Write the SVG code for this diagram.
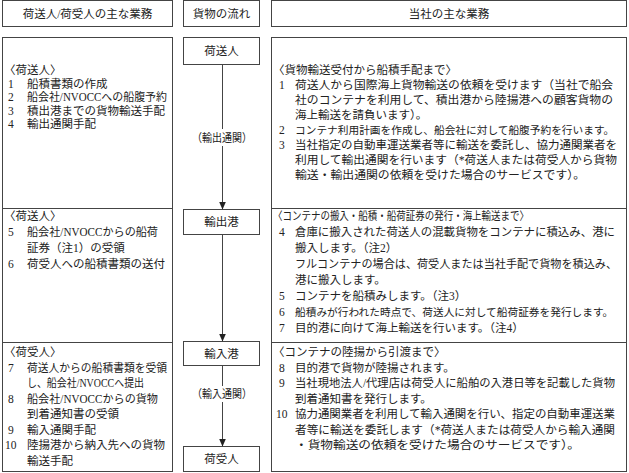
<svg xmlns="http://www.w3.org/2000/svg" width="629" height="473" viewBox="0 0 629 473">
<defs>
<style>
.bx{fill:#fff;stroke:#444;stroke-width:1}
.ln{fill:none;stroke:#444;stroke-width:1}
.t{font-family:"Liberation Serif","Noto Sans CJK JP",sans-serif;font-size:11.5px;fill:#222;dominant-baseline:central}
.s{font-size:10.7px}
.c{text-anchor:middle}
</style>
<marker id="ah" markerUnits="userSpaceOnUse" markerWidth="8" markerHeight="8" refX="8" refY="3.5" orient="auto">
<path d="M0,0 L8,3.5 L0,7 z" fill="#222"/>
</marker>
</defs>
<rect width="629" height="473" fill="#fff"/>

<g id="headers">
<rect class="bx" x="2.5" y="0.5" width="170" height="26"/>
<text class="t c" x="87.5" y="14">荷送人/荷受人の主な業務</text>
<rect class="bx" x="183.5" y="0.5" width="76" height="26"/>
<text class="t c" x="221.5" y="14">貨物の流れ</text>
<rect class="bx" x="271.5" y="0.5" width="355" height="26"/>
<text class="t c" x="449" y="14">当社の主な業務</text>
</g>

<g id="left-column">
<rect class="bx" x="2.5" y="37.5" width="170" height="434"/>
<line class="ln" x1="2.5" y1="208.5" x2="172.5" y2="208.5"/>
<line class="ln" x1="2.5" y1="342.5" x2="172.5" y2="342.5"/>
<text class="t" x="4" y="70">〈荷送人〉</text>
<text class="t" x="8" y="83.5">1</text><text class="t" x="27" y="83.5">船積書類の作成</text>
<text class="t" x="8" y="97">2</text><text class="t" x="27" y="97" textLength="140" lengthAdjust="spacingAndGlyphs">船会社/NVOCCへの船腹予約</text>
<text class="t" x="8" y="110.5">3</text><text class="t" x="27" y="110.5">積出港までの貨物輸送手配</text>
<text class="t" x="8" y="124">4</text><text class="t" x="27" y="124">輸出通関手配</text>

<text class="t" x="4" y="216">〈荷送人〉</text>
<text class="t" x="8" y="232">5</text><text class="t" x="27" y="232" textLength="131" lengthAdjust="spacingAndGlyphs">船会社/NVOCCからの船荷</text>
<text class="t" x="27" y="248">証券（注1）の受領</text>
<text class="t" x="8" y="264">6</text><text class="t" x="27" y="264">荷受人への船積書類の送付</text>

<text class="t" x="4" y="352">〈荷受人〉</text>
<text class="t" x="8" y="367.5">7</text><text class="t" x="27" y="367.5" textLength="140" lengthAdjust="spacingAndGlyphs">荷送人からの船積書類を受領</text>
<text class="t" x="27" y="383" textLength="117" lengthAdjust="spacingAndGlyphs">し、船会社/NVOCCへ提出</text>
<text class="t" x="8" y="398.5">8</text><text class="t" x="27" y="398.5" textLength="131" lengthAdjust="spacingAndGlyphs">船会社/NVOCCからの貨物</text>
<text class="t" x="27" y="414">到着通知書の受領</text>
<text class="t" x="8" y="429.5">9</text><text class="t" x="27" y="429.5">輸入通関手配</text>
<text class="t" x="5" y="445">10</text><text class="t" x="27" y="445">陸揚港から納入先への貨物</text>
<text class="t" x="27" y="460.5">輸送手配</text>
</g>

<g id="right-column">
<rect class="bx" x="271.5" y="37.5" width="355" height="434"/>
<line class="ln" x1="271.5" y1="208.5" x2="626.5" y2="208.5"/>
<line class="ln" x1="271.5" y1="342.5" x2="626.5" y2="342.5"/>
<text class="t" x="273" y="70">〈貨物輸送受付から船積手配まで〉</text>
<text class="t" x="279" y="85">1</text><text class="t" x="295" y="85" textLength="318" lengthAdjust="spacingAndGlyphs">荷送人から国際海上貨物輸送の依頼を受けます（当社で船会</text>
<text class="t" x="295" y="100" textLength="318" lengthAdjust="spacingAndGlyphs">社のコンテナを利用して、積出港から陸揚港への顧客貨物の</text>
<text class="t" x="295" y="115">海上輸送を請負います）。</text>
<text class="t" x="279" y="130">2</text><text class="t s" x="295" y="130">コンテナ利用計画を作成し、船会社に対して船腹予約を行います。</text>
<text class="t" x="279" y="145">3</text><text class="t" x="295" y="145" textLength="322" lengthAdjust="spacingAndGlyphs">当社指定の自動車運送業者等に輸送を委託し、協力通関業者を</text>
<text class="t" x="295" y="160" textLength="322" lengthAdjust="spacingAndGlyphs">利用して輸出通関を行います（*荷送人または荷受人から貨物</text>
<text class="t" x="295" y="175" textLength="290" lengthAdjust="spacingAndGlyphs">輸送・輸出通関の依頼を受けた場合のサービスです）。</text>

<text class="t" x="273" y="216" textLength="256" lengthAdjust="spacingAndGlyphs">〈コンテナの搬入・船積・船荷証券の発行・海上輸送まで〉</text>
<text class="t" x="279" y="232">4</text><text class="t" x="295" y="232" textLength="320" lengthAdjust="spacingAndGlyphs">倉庫に搬入された荷送人の混載貨物をコンテナに積込み、港に</text>
<text class="t" x="295" y="248">搬入します。（注2）</text>
<text class="t" x="295" y="264" textLength="322" lengthAdjust="spacingAndGlyphs">フルコンテナの場合は、荷受人または当社手配で貨物を積込み、</text>
<text class="t" x="295" y="280">港に搬入します。</text>
<text class="t" x="279" y="296">5</text><text class="t" x="295" y="296">コンテナを船積みします。（注3）</text>
<text class="t" x="279" y="312">6</text><text class="t s" x="295" y="312">船積みが行われた時点で、荷送人に対して船荷証券を発行します。</text>
<text class="t" x="279" y="328">7</text><text class="t" x="295" y="328">目的港に向けて海上輸送を行います。（注4）</text>

<text class="t" x="273" y="352">〈コンテナの陸揚から引渡まで〉</text>
<text class="t" x="279" y="367.5">8</text><text class="t" x="295" y="367.5">目的港で貨物が陸揚されます。</text>
<text class="t" x="279" y="383">9</text><text class="t" x="295" y="383" textLength="320" lengthAdjust="spacingAndGlyphs">当社現地法人/代理店は荷受人に船舶の入港日等を記載した貨物</text>
<text class="t" x="295" y="398.5">到着通知書を発行します。</text>
<text class="t" x="276" y="414">10</text><text class="t" x="295" y="414" textLength="320" lengthAdjust="spacingAndGlyphs">協力通関業者を利用して輸入通関を行い、指定の自動車運送業</text>
<text class="t" x="295" y="429.5" textLength="320" lengthAdjust="spacingAndGlyphs">者等に輸送を委託します（*荷送人または荷受人から輸入通関</text>
<text class="t" x="295" y="445" textLength="285" lengthAdjust="spacingAndGlyphs">・貨物輸送の依頼を受けた場合のサービスです）。</text>
</g>

<g id="node-shipper">
<rect class="bx" x="183.5" y="37.5" width="76" height="27"/>
<text class="t c" x="221.5" y="51">荷送人</text>
</g>
<g id="node-export-port">
<rect class="bx" x="183.5" y="209.5" width="76" height="25"/>
<text class="t c" x="221.5" y="222">輸出港</text>
</g>
<g id="node-import-port">
<rect class="bx" x="183.5" y="341.5" width="76" height="24"/>
<text class="t c" x="221.5" y="353.5">輸入港</text>
</g>
<g id="node-consignee">
<rect class="bx" x="183.5" y="446.5" width="76" height="25"/>
<text class="t c" x="221.5" y="459">荷受人</text>
</g>

<g id="connectors">
<line class="ln" x1="222.5" y1="64.5" x2="222.5" y2="129"/>
<text class="t c" x="222" y="137.5" textLength="60" lengthAdjust="spacingAndGlyphs">（輸出通関）</text>
<line class="ln" x1="222.5" y1="146" x2="222.5" y2="209.5" marker-end="url(#ah)"/>
<line class="ln" x1="222.5" y1="234.5" x2="222.5" y2="341.5" marker-end="url(#ah)"/>
<line class="ln" x1="222.5" y1="365.5" x2="222.5" y2="386"/>
<text class="t c" x="222" y="394" textLength="60" lengthAdjust="spacingAndGlyphs">（輸入通関）</text>
<line class="ln" x1="222.5" y1="402" x2="222.5" y2="446.5" marker-end="url(#ah)"/>
</g>
</svg>
